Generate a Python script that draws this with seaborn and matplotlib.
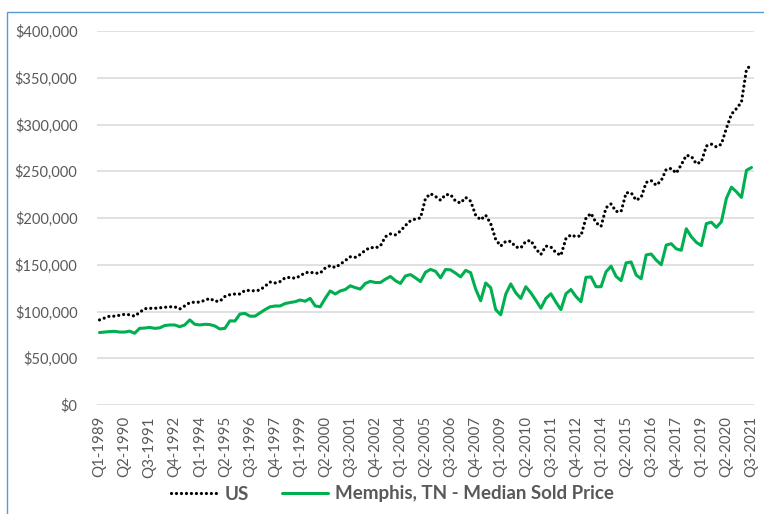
import matplotlib
matplotlib.use("Agg")
import matplotlib.pyplot as plt
import seaborn as sns
import pandas as pd
import numpy as np
from matplotlib.patches import Rectangle
from matplotlib.ticker import FuncFormatter

years = list(range(1989, 2022))
quarters = [f"Q{q}-{y}" for y in years for q in (1, 2, 3, 4)][:131]

us = [
    91, 93, 95, 95, 96, 97, 96.5, 95,
    99, 103, 103.4, 103.4, 104, 104.5, 105, 105,
    102.7, 106, 109.5, 110, 110, 112, 114, 111,
    111, 116, 118, 118.7, 118.7, 122.5, 122.5, 122,
    123, 127, 131.5, 130.5, 132, 136, 136.5, 135.5,
    138, 141.5, 142, 141, 141, 146.5, 149, 147,
    150.5, 154.5, 158.5, 158, 161, 165.5, 168.5, 168,
    170, 180, 183, 182, 186, 192, 197, 199,
    200, 221, 226, 223, 219, 225, 225, 218,
    216, 222, 218, 203, 198, 203, 194, 177,
    170, 175, 175, 169, 168, 175, 176, 167,
    161, 170, 169, 163, 160, 178, 182, 180,
    181, 200, 205, 195, 191, 211, 215, 207,
    207, 227, 227, 219, 222, 238, 240, 235,
    240, 252, 253, 248, 257, 267, 266, 258,
    260, 277, 279, 276, 279, 296, 311, 317,
    324, 359, 364,
]

memphis = [
    77.5, 78, 78.5, 78.8, 78, 78, 79, 76.7,
    82, 82.3, 83, 82, 82.5, 85, 85.6, 85.6,
    83.7, 85.6, 91, 86.3, 85.6, 86.3, 86, 84.5,
    81.3, 82, 90, 89.8, 97.3, 98, 95, 95,
    98.5, 102, 105, 105.9, 105.9, 108.5, 109.6, 110.5,
    112.3, 111, 114, 106, 105, 114, 122, 118.7,
    122, 123.5, 127.5, 125.5, 124, 130, 132.3, 131,
    131, 134.5, 137.5, 133, 130, 138, 139.5, 136,
    132, 142, 145, 143, 136, 145, 144.5, 141,
    137, 144, 141.5, 124, 111.5, 130.5, 125.5, 102,
    96.5, 118.5, 129.5, 120, 114, 126.5, 120, 112,
    103.5, 114, 119, 110, 102, 119, 123.5, 116,
    110.5, 136.5, 137, 126.5, 126.5, 142.5, 148.5, 137.5,
    133, 152, 153, 139, 135, 160.5, 161.5, 155,
    150, 171, 172.5, 167, 165.5, 188.5, 180, 174,
    170.5, 194, 195.5, 190, 196, 221, 233, 228,
    222, 251, 254,
]

series_names = ["US", "Memphis, TN - Median Sold Price"]
colors = ["#000000", "#00B050"]

df = pd.DataFrame({
    "idx": list(range(len(quarters))) * 2,
    "value": [v * 1000 for v in us] + [v * 1000 for v in memphis],
    "series": [series_names[0]] * len(us) + [series_names[1]] * len(memphis),
})

sns.set_theme(style="white")
plt.rcParams["font.family"] = ["Lato", "DejaVu Sans"]

fig = plt.figure(figsize=(7.64, 5.14), dpi=100)
W, H = 764, 514
ax = fig.add_axes([97 / W, 1 - 405 / H, (754 - 97) / W, (405 - 31) / H])

sns.lineplot(data=df, x="idx", y="value", hue="series", palette=colors,
             ax=ax, legend=False, sort=False)

lines = ax.get_lines()
lines[0].set_linewidth(2.3)
lines[0].set_dashes([0.01, 1.55])
lines[0].set_dash_capstyle("round")
lines[0].set_solid_capstyle("round")
lines[1].set_linewidth(2.2)
lines[1].set_solid_joinstyle("round")
for ln, nm in zip(lines, series_names):
    ln.set_label(nm)

ax.set_xlim(-0.5, len(quarters) - 0.5)
ax.set_ylim(0, 400000)
ax.set_yticks(np.arange(0, 400001, 50000))
ax.yaxis.set_major_formatter(FuncFormatter(lambda v, p: f"${v:,.0f}"))
tick_pos = list(range(0, len(quarters), 5))
ax.set_xticks(tick_pos)
ax.set_xticklabels([quarters[i] for i in tick_pos], rotation=90)
ax.set_xlabel("")
ax.set_ylabel("")
ax.grid(axis="y", color="#d9d9d9", linewidth=1.1)
ax.grid(axis="x", visible=False)
for s in ax.spines.values():
    s.set_visible(False)
ax.tick_params(axis="both", length=0, colors="#595959")
ax.tick_params(axis="y", pad=14, labelsize=10.5)
ax.tick_params(axis="x", pad=8, labelsize=10.8)

leg = fig.legend(handles=lines, labels=series_names, loc="center",
                 bbox_to_anchor=(0.514, 1 - 494 / H), ncol=2, frameon=False,
                 handlelength=2.45, handletextpad=0.37, columnspacing=1.8,
                 prop={"weight": "bold", "size": 13.5})
for t in leg.get_texts():
    t.set_color("#595959")

fig.patches.append(Rectangle((6.5 / W, -0.1), 1.2, (1 - 12 / H) + 0.1,
                             transform=fig.transFigure, fill=False,
                             edgecolor="#5B9BD5", linewidth=1.0))

fig.savefig("out.png", dpi=100)
